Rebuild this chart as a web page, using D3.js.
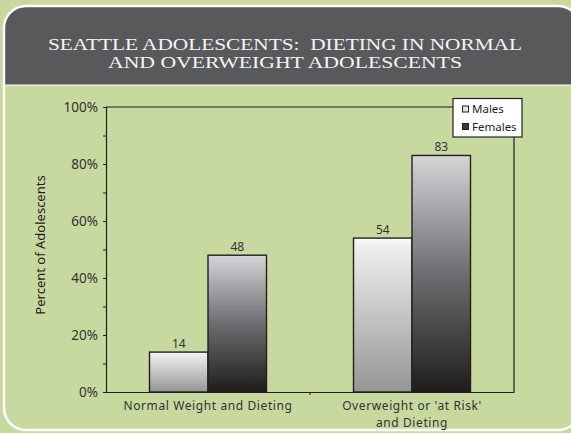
<!DOCTYPE html>
<html>
<head>
<meta charset="utf-8">
<script src="https://cdn.jsdelivr.net/npm/d3@7"></script>
<style>
  html, body { margin: 0; padding: 0; background: #c8d99f; }
  svg { display: block; }
</style>
</head>
<body>
<svg id="chart" width="571" height="433"></svg>
<script>
// Dieting rates among Seattle adolescents, by weight group and sex
const categories = ["Normal Weight and Dieting", "Overweight or 'at Risk'\nand Dieting"];
const seriesNames = ["Males", "Females"];
const males = [14, 54];
const females = [48, 83];
const yTicks = [0, 20, 40, 60, 80, 100];
const titleLines = ["SEATTLE ADOLESCENTS:  DIETING IN NORMAL", "AND OVERWEIGHT ADOLESCENTS"];

const W = 571, H = 433;
const svg = d3.select("#chart");
const green = "#c8d99f";
const ink = "#231f20";
const sans = "'Noto Sans', 'Open Sans', sans-serif";

// page background
svg.append("rect").attr("width", W).attr("height", H).attr("fill", green);

// panel: rounded frame with dark header band
const defs = svg.append("defs");
const panel = { x: 4, y: 6, w: 576, h: 424, r: 22 };
defs.append("clipPath").attr("id", "panelClip")
  .append("rect").attr("x", panel.x).attr("y", panel.y)
  .attr("width", panel.w).attr("height", panel.h).attr("rx", panel.r);

svg.append("rect").attr("x", panel.x).attr("y", panel.y)
  .attr("width", panel.w).attr("height", panel.h).attr("rx", panel.r)
  .attr("fill", green);

const clipped = svg.append("g").attr("clip-path", "url(#panelClip)");
clipped.append("rect").attr("x", 0).attr("y", 0).attr("width", W).attr("height", 84.5)
  .attr("fill", "#58595b");
clipped.append("line").attr("x1", 0).attr("x2", W).attr("y1", 85.5).attr("y2", 85.5)
  .attr("stroke", "#e4e6df").attr("stroke-width", 1.6);

svg.append("rect").attr("x", panel.x).attr("y", panel.y)
  .attr("width", panel.w).attr("height", panel.h).attr("rx", panel.r)
  .attr("fill", "none").attr("stroke", "#ffffff").attr("stroke-width", 2.4);

// title
const titleWidths = [474, 354];
svg.append("g").selectAll("text").data(titleLines).join("text")
  .attr("x", 285).attr("y", (d, i) => 49.5 + i * 18.5)
  .attr("text-anchor", "middle")
  .attr("font-family", "'Liberation Serif', 'DejaVu Serif', serif")
  .attr("font-size", 16.5)
  .attr("fill", "#f4f4f4")
  .style("white-space", "pre")
  .attr("textLength", (d, i) => titleWidths[i])
  .attr("lengthAdjust", "spacingAndGlyphs")
  .text(d => d);

// plot area
const plot = { left: 106, right: 514, top: 107, bottom: 392 };
const x0 = d3.scaleBand().domain(categories).range([plot.left, plot.right]).paddingInner(0).paddingOuter(0);
const barW = 58.5;
const y = d3.scaleLinear().domain([0, 100]).range([plot.bottom, plot.top]);

// bar gradients
const gMale = defs.append("linearGradient").attr("id", "gradMale")
  .attr("x1", 0).attr("y1", 0).attr("x2", 0).attr("y2", 1);
gMale.append("stop").attr("offset", "0%").attr("stop-color", "#ffffff");
gMale.append("stop").attr("offset", "4%").attr("stop-color", "#f0f0f1");
gMale.append("stop").attr("offset", "100%").attr("stop-color", "#949597");

const gFem = defs.append("linearGradient").attr("id", "gradFemale")
  .attr("x1", 0).attr("y1", 0).attr("x2", 0).attr("y2", 1);
gFem.append("stop").attr("offset", "0%").attr("stop-color", "#d4d5d7");
gFem.append("stop").attr("offset", "50%").attr("stop-color", "#6d6e71");
gFem.append("stop").attr("offset", "100%").attr("stop-color", "#1f1c1d");

const fills = ["url(#gradMale)", "url(#gradFemale)"];
const series = [males, females];

// plot frame (top and right edges)
svg.append("path")
  .attr("d", `M${plot.left},${plot.top}H${plot.right}V${plot.bottom}`)
  .attr("fill", "none").attr("stroke", ink).attr("stroke-width", 1.2);

// bars
const barsG = svg.append("g");
series.forEach((vals, s) => {
  barsG.selectAll(null).data(vals).join("rect")
    .attr("x", (d, i) => x0(categories[i]) + x0.bandwidth() / 2 - barW + s * barW)
    .attr("y", d => y(d))
    .attr("width", barW)
    .attr("height", d => y(0) - y(d))
    .attr("fill", fills[s])
    .attr("stroke", ink).attr("stroke-width", 1.4);
  barsG.selectAll(null).data(vals).join("text")
    .attr("x", (d, i) => x0(categories[i]) + x0.bandwidth() / 2 - barW / 2 + s * barW)
    .attr("y", d => y(d) - 4)
    .attr("text-anchor", "middle")
    .attr("font-family", sans)
    .attr("font-size", 12)
    .attr("fill", "#333")
    .text(d => d);
});

// y axis
const yAxis = d3.axisLeft(y).tickValues(d3.range(0, 101, 10)).tickSize(3).tickPadding(5)
  .tickFormat(d => yTicks.includes(d) ? d + "%" : "");
const yg = svg.append("g").attr("transform", `translate(${plot.left},0)`).call(yAxis);
yg.select(".domain").attr("stroke", ink).attr("stroke-width", 1.2);
yg.selectAll(".tick line").attr("stroke", ink);
yg.selectAll(".tick text")
  .attr("font-family", sans)
  .attr("font-size", 13.5).attr("fill", "#333");

// x axis: ticks at category boundaries
const xAxis = d3.axisBottom(x0).tickSize(0).tickFormat("");
const xg = svg.append("g").attr("transform", `translate(0,${plot.bottom})`).call(xAxis);
xg.select(".domain").attr("stroke", ink).attr("stroke-width", 1.2);
xg.selectAll(".tick").remove();
xg.selectAll(".sep").data(categories.slice(1)).join("line")
  .attr("class", "sep")
  .attr("x1", d => x0(d)).attr("x2", d => x0(d))
  .attr("y1", 0).attr("y2", 3).attr("stroke", ink);

// category labels
const catG = svg.append("g");
categories.forEach(c => {
  const lines = c.split("\n");
  catG.selectAll(null).data(lines).join("text")
    .attr("text-anchor", "middle")
    .attr("font-family", sans)
    .attr("font-size", 12).attr("letter-spacing", 0.6).attr("fill", "#333")
    .attr("x", x0(c) + x0.bandwidth() / 2)
    .attr("y", (d, i) => 410 + i * 16.6)
    .text(d => d);
});

// y axis title
svg.append("text")
  .attr("transform", "translate(45,245) rotate(-90)")
  .attr("text-anchor", "middle")
  .attr("font-family", sans)
  .attr("font-size", 13).attr("fill", ink)
  .text("Percent of Adolescents");

// legend
const lg = svg.append("g").attr("transform", "translate(453,98.5)");
lg.append("rect").attr("width", 69).attr("height", 38.5)
  .attr("fill", "#ffffff").attr("stroke", ink).attr("stroke-width", 1.2);
const swatchFill = ["#e6e6e6", "#3a3a3c"];
seriesNames.forEach((n, i) => {
  lg.append("rect").attr("x", 9.5).attr("y", 7.5 + i * 17.5).attr("width", 6).attr("height", 6)
    .attr("fill", swatchFill[i]).attr("stroke", ink).attr("stroke-width", 1);
  lg.append("text").attr("x", 19).attr("y", 14.5 + i * 17.5)
    .attr("font-family", sans)
    .attr("font-size", 11.5).attr("fill", ink)
    .text(n);
});
</script>
</body>
</html>
